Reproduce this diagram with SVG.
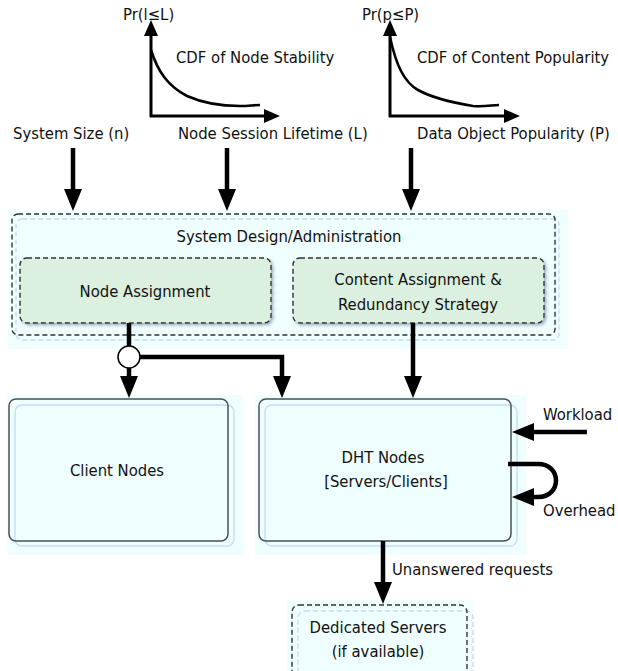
<svg xmlns="http://www.w3.org/2000/svg" width="618" height="671" viewBox="0 0 618 671">
  <defs>
    <style>
      text { font-family: "DejaVu Sans Condensed", "DejaVu Sans", "Liberation Sans", sans-serif; font-stretch: condensed; font-size: 16.5px; fill: #111; }
      .mid { text-anchor: middle; }
      .bg { fill: #effefe; stroke: none; }
      .ghost { fill: none; stroke: #c6dcf6; stroke-width: 1.4; }
      .ghost-dash { fill: none; stroke: #c6dcf6; stroke-width: 1.4; stroke-dasharray: 5 3; }
      .frame { fill: none; stroke: #4a5058; stroke-width: 1.5; }
      .frame-dash { fill: none; stroke: #333; stroke-width: 1.4; stroke-dasharray: 5 3; }
      .task { fill: #dcf0e0; stroke: #333; stroke-width: 1.4; stroke-dasharray: 5 3; }
      .flow { fill: none; stroke: #000; stroke-width: 4.5; }
      .axis { fill: none; stroke: #000; stroke-width: 3; }
      .curve { fill: none; stroke: #000; stroke-width: 2.6; }
    </style>
    <marker id="head" markerUnits="userSpaceOnUse" markerWidth="22" markerHeight="18" refX="10" refY="9" orient="auto">
      <path d="M0,0 L22,9 L0,18 Z" fill="#000"/>
    </marker>
    <marker id="axhead" markerUnits="userSpaceOnUse" markerWidth="16" markerHeight="14" refX="6" refY="7" orient="auto">
      <path d="M0,0 L16,7 L0,14 Z" fill="#000"/>
    </marker>
    <filter id="shadow" x="-5%" y="-10%" width="115%" height="130%">
      <feDropShadow dx="2" dy="2" stdDeviation="1.5" flood-color="#6a7a9a" flood-opacity="0.55"/>
    </filter>
  </defs>

  <!-- CDF plot: node stability -->
  <g id="cdf-stability">
    <line class="axis" x1="151" y1="117" x2="151" y2="30" marker-end="url(#axhead)"/>
    <line class="axis" x1="150" y1="116" x2="270" y2="116" marker-end="url(#axhead)"/>
    <path class="curve" d="M151,50 C158,72 168,86 187,96 C205,104 225,106 240,106 C248,106 254,105 260,105"/>
    <text x="123" y="20">Pr(l≤L)</text>
    <text x="176" y="63">CDF of Node Stability</text>
  </g>

  <!-- CDF plot: content popularity -->
  <g id="cdf-popularity">
    <line class="axis" x1="390" y1="117" x2="390" y2="30" marker-end="url(#axhead)"/>
    <line class="axis" x1="389" y1="116" x2="510" y2="116" marker-end="url(#axhead)"/>
    <path class="curve" d="M390,37 C396,65 404,82 418,90 C434,99 455,103 473,106 C485,107 492,105 499,105"/>
    <text x="362" y="20">Pr(p≤P)</text>
    <text x="417" y="63">CDF of Content Popularity</text>
  </g>

  <!-- input parameters -->
  <g id="inputs">
    <text x="13" y="139">System Size (n)</text>
    <text x="178" y="139">Node Session Lifetime (L)</text>
    <text x="417" y="139">Data Object Popularity (P)</text>
  </g>

  <!-- design / administration container -->
  <g id="design">
    <rect class="bg" x="8" y="210" width="560" height="139"/>
    <rect class="ghost-dash" x="16" y="219" width="543" height="121" rx="6"/>
    <rect class="frame-dash" x="12" y="214" width="543" height="121" rx="6"/>
    <text class="mid" x="289" y="242">System Design/Administration</text>
  </g>

  <g id="node-assignment">
    <rect class="task" x="20" y="258" width="251" height="65" rx="7" filter="url(#shadow)"/>
    <text class="mid" x="145" y="297">Node Assignment</text>
  </g>

  <g id="content-assignment">
    <rect class="task" x="293" y="258" width="251" height="65" rx="7" filter="url(#shadow)"/>
    <text class="mid" x="418" y="285">Content Assignment &amp;</text>
    <text class="mid" x="418" y="310">Redundancy Strategy</text>
  </g>

  <g id="client-nodes">
    <rect class="bg" x="7" y="395" width="236" height="160"/>
    <rect class="ghost" x="15" y="405" width="219" height="141" rx="7"/>
    <rect class="frame" x="9" y="399" width="219" height="142" rx="7"/>
    <text class="mid" x="117" y="476">Client Nodes</text>
  </g>

  <g id="dht-nodes">
    <rect class="bg" x="255" y="395" width="271" height="160"/>
    <rect class="ghost" x="265" y="405" width="252" height="141" rx="7"/>
    <rect class="frame" x="259" y="399" width="252" height="142" rx="7"/>
    <text class="mid" x="383" y="463">DHT Nodes</text>
    <text class="mid" x="386" y="487">[Servers/Clients]</text>
  </g>

  <g id="dedicated-servers">
    <rect class="bg" x="287" y="600" width="186" height="80"/>
    <rect class="ghost-dash" x="298" y="611" width="175" height="80" rx="7"/>
    <rect class="frame-dash" x="292" y="605" width="175" height="80" rx="7"/>
    <text class="mid" x="378" y="633">Dedicated Servers</text>
    <text class="mid" x="378" y="657">(if available)</text>
  </g>

  <!-- connectors -->
  <g id="connectors">
    <line class="flow" x1="73" y1="148" x2="73" y2="199" marker-end="url(#head)"/>
    <line class="flow" x1="227" y1="148" x2="227" y2="199" marker-end="url(#head)"/>
    <line class="flow" x1="411" y1="148" x2="411" y2="199" marker-end="url(#head)"/>

    <line class="flow" x1="129" y1="323" x2="129" y2="346"/>
    <line class="flow" x1="129" y1="368" x2="129" y2="386" marker-end="url(#head)"/>
    <path class="flow" d="M140,357 H282 V386" marker-end="url(#head)"/>
    <circle cx="129" cy="357" r="11" fill="#fff" stroke="#000" stroke-width="1.5"/>

    <line class="flow" x1="413" y1="323" x2="413" y2="386" marker-end="url(#head)"/>

    <path class="flow" d="M587,432 H524" marker-end="url(#head)"/>
    <path class="flow" d="M508,464 H538 C562,464 562,497 538,497 H524" marker-end="url(#head)"/>

    <line class="flow" x1="383" y1="541" x2="383" y2="592" marker-end="url(#head)"/>

    <text x="543" y="420">Workload</text>
    <text x="543" y="516">Overhead</text>
    <text x="392" y="575">Unanswered requests</text>
  </g>
</svg>
